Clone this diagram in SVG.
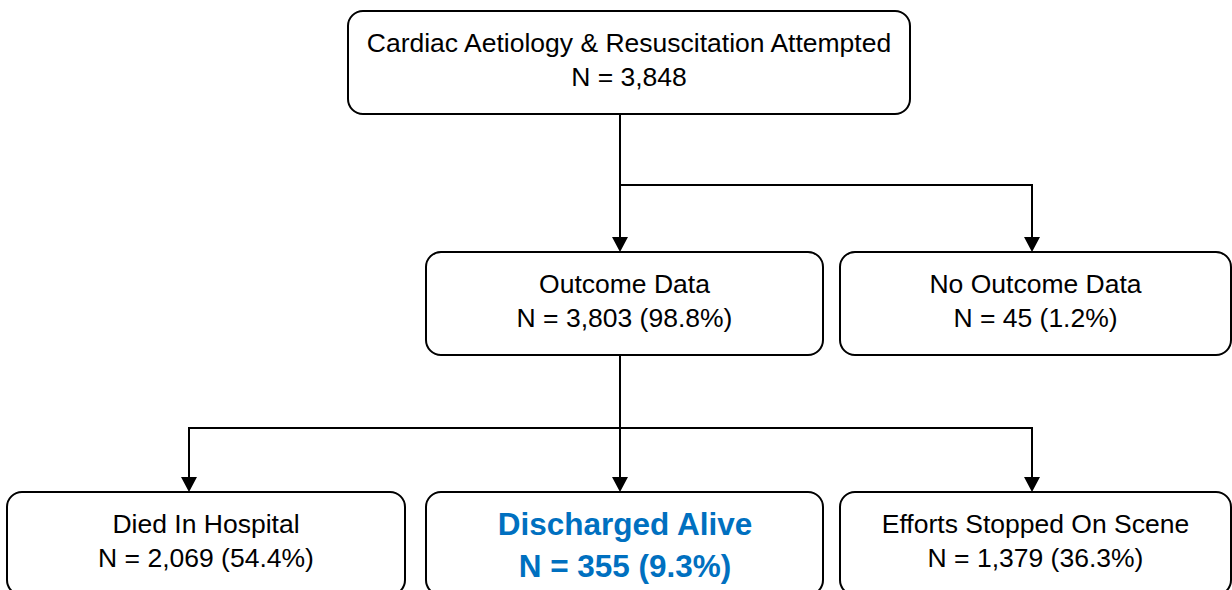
<svg xmlns="http://www.w3.org/2000/svg" width="1232" height="590" viewBox="0 0 1232 590">
  <style>
    .box { fill: #ffffff; stroke: #000000; stroke-width: 2; }
    .t { font-family: "Liberation Sans", Arial, sans-serif; font-size: 26.5px; fill: #000000; text-anchor: middle; }
    .hl { font-family: "Liberation Sans", Arial, sans-serif; font-size: 31.5px; font-weight: bold; fill: #0070C0; text-anchor: middle; }
    .conn { fill: none; stroke: #000000; stroke-width: 2; }
  </style>
  <defs>
    <marker id="arrow" viewBox="0 0 15 16" markerWidth="15" markerHeight="16" refX="7" refY="8" orient="auto" markerUnits="userSpaceOnUse">
      <path d="M0,0 L15,8 L0,16 Z" fill="#000000"/>
    </marker>
  </defs>
  <rect width="1232" height="590" fill="#ffffff"/>

  <g id="connectors">
    <line class="conn" x1="620" y1="114" x2="620" y2="244" marker-end="url(#arrow)"/>
    <polyline class="conn" points="620,185 1032,185 1032,244" marker-end="url(#arrow)"/>
    <line class="conn" x1="620" y1="355" x2="620" y2="484" marker-end="url(#arrow)"/>
    <polyline class="conn" points="620,428 189,428 189,484" marker-end="url(#arrow)"/>
    <polyline class="conn" points="620,428 1032,428 1032,484" marker-end="url(#arrow)"/>
  </g>

  <g id="node-cardiac">
    <rect class="box" x="348" y="11" width="562" height="103" rx="15" ry="15"/>
    <text class="t" x="629" y="52">Cardiac Aetiology &amp; Resuscitation Attempted</text>
    <text class="t" x="629" y="86">N = 3,848</text>
  </g>

  <g id="node-outcome">
    <rect class="box" x="426" y="252" width="397" height="103" rx="15" ry="15"/>
    <text class="t" x="624.5" y="293">Outcome Data</text>
    <text class="t" x="624.5" y="327">N = 3,803 (98.8%)</text>
  </g>

  <g id="node-no-outcome">
    <rect class="box" x="840" y="252" width="391" height="103" rx="15" ry="15"/>
    <text class="t" x="1035.5" y="293">No Outcome Data</text>
    <text class="t" x="1035.5" y="327">N = 45 (1.2%)</text>
  </g>

  <g id="node-died">
    <rect class="box" x="7" y="492" width="398" height="103" rx="15" ry="15"/>
    <text class="t" x="206" y="533">Died In Hospital</text>
    <text class="t" x="206" y="567">N = 2,069 (54.4%)</text>
  </g>

  <g id="node-discharged">
    <rect class="box" x="426" y="492" width="397" height="103" rx="15" ry="15"/>
    <text class="hl" x="625" y="535">Discharged Alive</text>
    <text class="hl" x="625" y="577">N = 355 (9.3%)</text>
  </g>

  <g id="node-efforts">
    <rect class="box" x="840" y="492" width="391" height="103" rx="15" ry="15"/>
    <text class="t" x="1035.5" y="533">Efforts Stopped On Scene</text>
    <text class="t" x="1035.5" y="567">N = 1,379 (36.3%)</text>
  </g>
</svg>
